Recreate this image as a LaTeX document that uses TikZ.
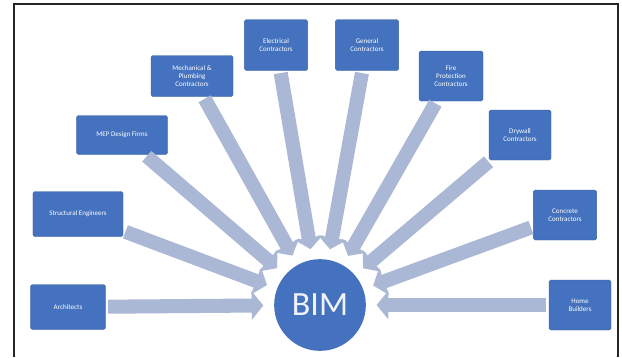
\documentclass[tikz,border=0pt]{standalone}
\usepackage{fontspec}
\setmainfont{Carlito}
\usepackage{tikz}
\usetikzlibrary{arrows.meta}

\definecolor{boxblue}{RGB}{68,114,190}
\definecolor{flowblue}{RGB}{170,184,214}

\tikzset{
	party/.style={draw=boxblue!85!black, fill=boxblue, rounded corners=1.5pt, text=white, align=center, font=\fontsize{6}{7}\selectfont, inner sep=1pt},
	flow/.style={draw=flowblue, line width=12pt, -{Triangle[width=24pt,length=10pt]}, shorten >=9pt, shorten <=2pt}
}

\begin{document}
\begin{tikzpicture}[x=0.03cm, y=-0.03cm]
	\useasboundingbox (0,0) rectangle (622,357);
	\draw[line width=1.4pt, black!85] (14,357) -- (14,4) -- (618,4) -- (618,357);
	\node[circle, fill=boxblue, minimum size=2.75cm, text=white!92!boxblue, font=\fontsize{29}{30}\selectfont] (bim) at (320,305) {BIM};
	\node[party, minimum width=2.25cm, minimum height=1.35cm] (arch) at (68,307) {Architects};
	\node[party, minimum width=2.7cm, minimum height=1.35cm] (struct) at (78,214) {Structural Engineers};
	\node[party, minimum width=2.73cm, minimum height=1.17cm] (mep) at (122,135) {MEP Design Firms};
	\node[party, minimum width=2.46cm, minimum height=1.23cm] (mech) at (192,76) {Mechanical \&\\Plumbing\\Contractors};
	\node[party, minimum width=1.9cm, minimum height=1.53cm] (elec) at (276,45) {Electrical\\Contractors};
	\node[party, minimum width=1.9cm, minimum height=1.53cm] (gen) at (367,45) {General\\Contractors};
	\node[party, minimum width=1.92cm, minimum height=1.5cm] (fire) at (451,76) {Fire\\Protection\\Contractors};
	\node[party, minimum width=1.86cm, minimum height=1.5cm] (dry) at (520,135) {Drywall\\Contractors};
	\node[party, minimum width=1.9cm, minimum height=1.5cm] (conc) at (565,215) {Concrete\\Contractors};
	\node[party, minimum width=1.86cm, minimum height=1.5cm] (home) at (580,305) {Home\\Builders};
	% arrows into BIM
	\foreach \src in {arch, struct, mep, mech, elec, gen, fire, dry, conc, home}
		\draw[flow] (\src) -- (bim);
\end{tikzpicture}
\end{document}
